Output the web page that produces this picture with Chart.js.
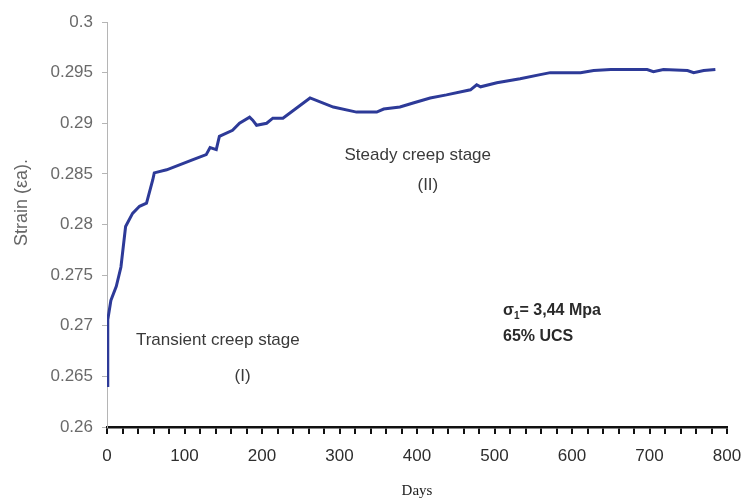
<!DOCTYPE html>
<html>
<head>
<meta charset="utf-8">
<script src="https://cdn.jsdelivr.net/npm/chart.js@4/dist/chart.umd.min.js"></script>
<style>
  html, body { margin: 0; padding: 0; background: #ffffff; }
  #wrap { width: 745px; height: 504px; }
</style>
</head>
<body>
<div id="wrap"><canvas id="c" width="745" height="504"></canvas></div>
<script>
// Creep test record: axial strain against elapsed days
const days = [0, 1, 5, 12, 18, 24, 33, 42, 51, 59, 61, 77, 111, 128, 133, 141, 145, 162, 171, 184, 188, 193, 206, 214, 227, 262, 292, 322, 348, 357, 378, 395, 417, 438, 469, 477, 482, 503, 533, 559, 572, 611, 628, 650, 697, 705, 718, 749, 757, 770, 785];
const strain = [0.2641, 0.2706, 0.2725, 0.2739, 0.2758, 0.2798, 0.2811, 0.2818, 0.2821, 0.2844, 0.2851, 0.2854, 0.2864, 0.2869, 0.2876, 0.2874, 0.2887, 0.2893, 0.2900, 0.2906, 0.2903, 0.2898, 0.2900, 0.2905, 0.2905, 0.2925, 0.2916, 0.2911, 0.2911, 0.2914, 0.2916, 0.2920, 0.2925, 0.2928, 0.2933, 0.2938, 0.2936, 0.2940, 0.2944, 0.2948, 0.2950, 0.2950, 0.2952, 0.2953, 0.2953, 0.2951, 0.2953, 0.2952, 0.2950, 0.2952, 0.2953];

// Axis tick labels
const yTickValues = [0.26, 0.265, 0.27, 0.275, 0.28, 0.285, 0.29, 0.295, 0.3];
const xTickLabels = [0, 100, 200, 300, 400, 500, 600, 700, 800];
const xMinorStep = 20;

// Text placed inside the plot
const stageNotes = [
  { lines: ['Steady creep stage', '(II)'], day: 401, strain: 0.28686, day2: 414, strain2: 0.2839 },
  { lines: ['Transient creep stage', '(I)'], day: 143, strain: 0.2686, day2: 175, strain2: 0.26504 }
];
const loadNote = { stress: '3,44 Mpa', ucs: '65% UCS', day: 511, strain: 0.27146, strain2: 0.26889 };

const SANS = "'Liberation Sans', Arial, Helvetica, sans-serif";

const notesPlugin = {
  id: 'notes',
  afterDatasetsDraw(chart) {
    const { ctx, scales: { x, y }, chartArea } = chart;
    ctx.save();
    ctx.fillStyle = '#3a3a3a';
    ctx.font = '17px ' + SANS;
    ctx.textAlign = 'center';
    ctx.textBaseline = 'middle';
    stageNotes.forEach(n => {
      ctx.fillText(n.lines[0], x.getPixelForValue(n.day), y.getPixelForValue(n.strain));
      ctx.fillText(n.lines[1], x.getPixelForValue(n.day2), y.getPixelForValue(n.strain2));
    });

    // stress annotation with subscript
    ctx.fillStyle = '#2a2a2a';
    ctx.textAlign = 'left';
    let px = x.getPixelForValue(loadNote.day);
    const py = y.getPixelForValue(loadNote.strain);
    ctx.font = 'bold 16px ' + SANS;
    ctx.fillText('σ', px, py);
    px += ctx.measureText('σ').width;
    ctx.font = 'bold 10px ' + SANS;
    ctx.fillText('1', px, py + 5);
    px += ctx.measureText('1').width;
    ctx.font = 'bold 16px ' + SANS;
    ctx.fillText('= ' + loadNote.stress, px, py);
    ctx.fillText(loadNote.ucs, x.getPixelForValue(loadNote.day), y.getPixelForValue(loadNote.strain2));

    // vertical axis title
    ctx.fillStyle = '#666666';
    ctx.font = '18px ' + SANS;
    ctx.textAlign = 'center';
    ctx.translate(22, (chartArea.top + chartArea.bottom) / 2 - 22);
    ctx.rotate(-Math.PI / 2);
    ctx.fillText('Strain (εa).', 0, 0);
    ctx.restore();
  }
};

new Chart(document.getElementById('c'), {
  type: 'line',
  data: {
    datasets: [{
      data: days.map((d, i) => ({ x: d, y: strain[i] })),
      borderColor: '#2d3a98',
      borderWidth: 3,
      pointRadius: 0,
      tension: 0,
      fill: false
    }]
  },
  options: {
    responsive: false,
    devicePixelRatio: 1,
    animation: false,
    layout: { padding: { top: 22, right: 18, left: 0, bottom: 0 } },
    plugins: { legend: { display: false }, tooltip: { enabled: false } },
    scales: {
      x: {
        type: 'linear',
        min: 0,
        max: 800,
        afterFit(scale) {
          scale.height = 77;
          scale.paddingLeft = 0;
          scale.paddingRight = 0;
        },
        afterBuildTicks(scale) {
          const ticks = [];
          for (let i = 0; i < xTickLabels.length - 1; i++) {
            for (let v = xTickLabels[i]; v < xTickLabels[i + 1]; v += xMinorStep) ticks.push({ value: v });
          }
          ticks.push({ value: xTickLabels[xTickLabels.length - 1] });
          scale.ticks = ticks;
        },
        border: { display: true, color: '#111111', width: 2.5 },
        grid: {
          drawOnChartArea: false,
          drawTicks: true,
          tickLength: 7,
          color: '#111111',
          lineWidth: 2
        },
        ticks: {
          autoSkip: false,
          maxRotation: 0,
          padding: 12,
          color: '#2e2e2e',
          font: { family: SANS, size: 17 },
          callback: v => (xTickLabels.includes(v) ? String(v) : '')
        },
        title: {
          display: true,
          text: 'Days',
          color: '#222222',
          font: { family: "'Liberation Serif', 'Times New Roman', serif", size: 15 },
          padding: { top: 0, bottom: 4 }
        }
      },
      y: {
        type: 'linear',
        min: 0.26,
        max: 0.3,
        afterFit(scale) { scale.width = 107; },
        afterBuildTicks(scale) { scale.ticks = yTickValues.map(v => ({ value: v })); },
        border: { display: true, color: '#b5b5b5', width: 1, dash: [1, 2] },
        grid: {
          drawOnChartArea: false,
          drawTicks: true,
          tickLength: 5,
          color: '#b5b5b5',
          lineWidth: 1
        },
        ticks: {
          padding: 9,
          color: '#6a6a6a',
          font: { family: SANS, size: 17 },
          callback: v => String(Number(v.toFixed(3)))
        }
      }
    }
  },
  plugins: [notesPlugin]
});
</script>
</body>
</html>
